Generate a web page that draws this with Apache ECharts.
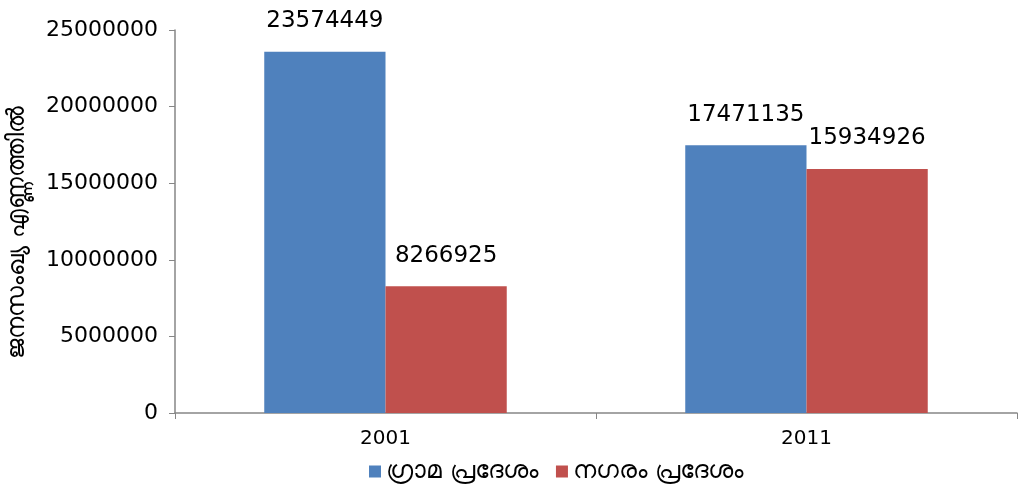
<!DOCTYPE html>
<html>
<head>
<meta charset="utf-8">
<script src="https://cdn.jsdelivr.net/npm/echarts@6/dist/echarts.min.js"></script>
<style>
  html, body { margin: 0; padding: 0; background: #fff; }
  #main { width: 1020px; height: 491px; }
</style>
</head>
<body>
<div id="main"></div>
<script>
// data
const years = ['2001', '2011'];
const rural = [23574449, 17471135];
const urban = [8266925, 15934926];
const seriesNames = ['ഗ്രാമ പ്രദേശം', 'നഗരം പ്രദേശം'];
const yTitle = 'ജനസംഖ്യ എണ്ണത്തിൽ';

const chart = echarts.init(document.getElementById('main'));
const font = 'DejaVu Sans, Liberation Sans, sans-serif';
const axisGray = '#868686';

const labelStyle = {
  show: true,
  position: 'top',
  distance: 19,
  color: '#000',
  fontSize: 23,
  fontFamily: font
};

chart.setOption({
  animation: false,
  grid: { left: 175, right: 3, top: 30, bottom: 78, outerBoundsMode: 'none' },
  legend: {
    bottom: 2,
    left: 364,
    itemWidth: 12,
    itemHeight: 12,
    itemGap: 18,
    icon: 'rect',
    textStyle: { fontSize: 25, color: '#000', fontFamily: font },
    data: seriesNames
  },
  xAxis: {
    type: 'category',
    data: years,
    axisLine: { lineStyle: { color: axisGray, width: 1.5 } },
    axisTick: { show: true, length: 6, lineStyle: { color: axisGray } },
    axisLabel: { fontSize: 20, color: '#000', fontFamily: font, margin: 16 }
  },
  yAxis: {
    type: 'value',
    min: 0,
    max: 25000000,
    interval: 5000000,
    name: yTitle,
    nameLocation: 'middle',
    nameGap: 145,
    nameTextStyle: { fontSize: 24, color: '#000', fontFamily: font, padding: [0, 22, 0, 0] },
    axisLine: { show: true, lineStyle: { color: axisGray, width: 1.5 } },
    axisTick: { show: true, length: 6, lineStyle: { color: axisGray } },
    splitLine: { show: false },
    axisLabel: {
      fontSize: 22,
      color: '#000',
      fontFamily: font,
      margin: 17,
      formatter: (v) => String(v)
    }
  },
  series: [
    {
      name: seriesNames[0],
      type: 'bar',
      data: rural,
      barWidth: '28.8%',
      barGap: '0%',
      itemStyle: { color: '#4F81BD' },
      label: labelStyle
    },
    {
      name: seriesNames[1],
      type: 'bar',
      data: urban,
      barWidth: '28.8%',
      itemStyle: { color: '#C0504D' },
      label: labelStyle
    }
  ]
});
</script>
</body>
</html>
